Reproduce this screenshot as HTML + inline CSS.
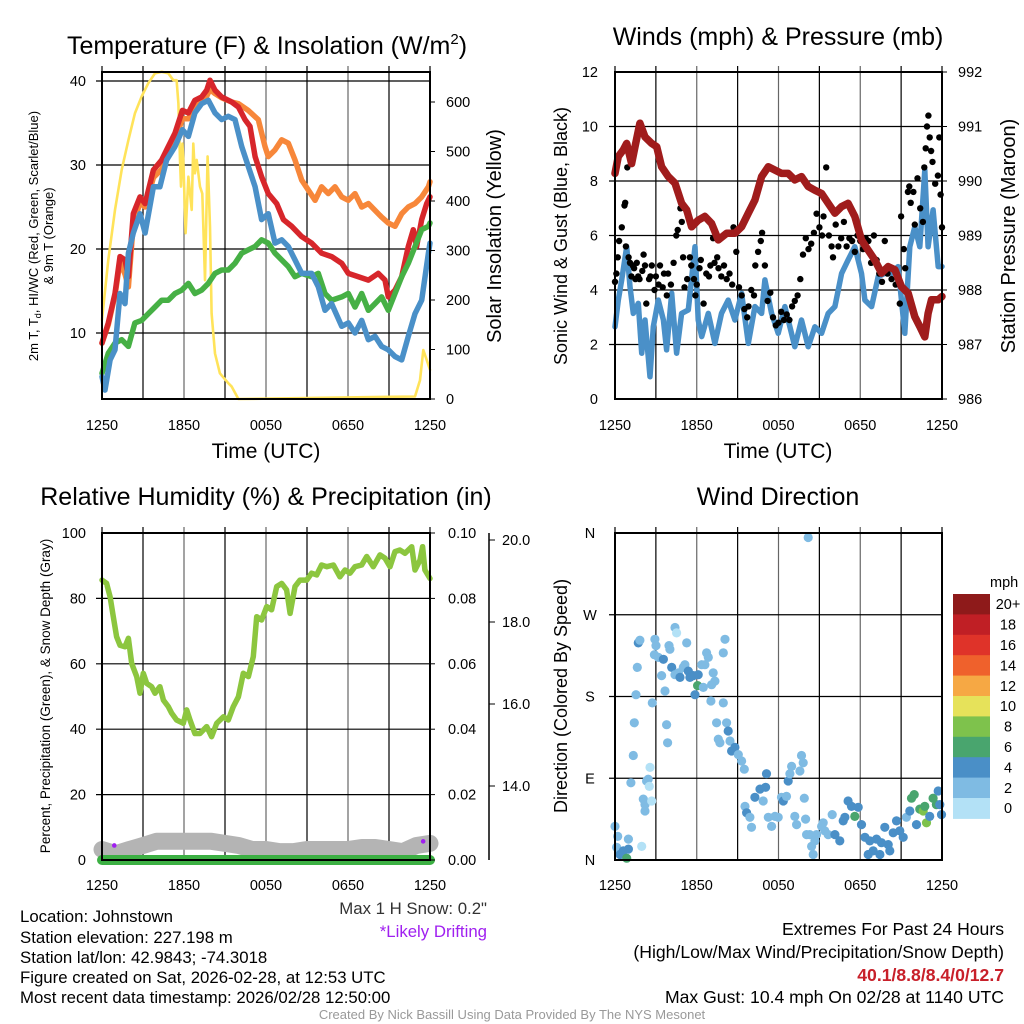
<!DOCTYPE html>
<html><head><meta charset="utf-8"><style>
html,body{margin:0;padding:0;background:#fff;}
svg{display:block;font-family:"Liberation Sans",Arial,sans-serif;}
</style></head><body>
<svg id="chart" width="1024" height="1024" viewBox="0 0 1024 1024" xmlns="http://www.w3.org/2000/svg">
<rect width="1024" height="1024" fill="#fff"/>
<g id="layer"></g>
<!-- titles -->
<text x="267" y="54" font-size="25" text-anchor="middle">Temperature (F) &amp; Insolation (W/m<tspan font-size="15" dy="-10">2</tspan><tspan dy="10">)</tspan></text>
<text x="778" y="45" font-size="25" text-anchor="middle">Winds (mph) &amp; Pressure (mb)</text>
<text x="266" y="505" font-size="25" text-anchor="middle">Relative Humidity (%) &amp; Precipitation (in)</text>
<text x="778" y="505" font-size="25" text-anchor="middle">Wind Direction</text>
<!-- x axis titles -->
<text x="266" y="458" font-size="21" text-anchor="middle">Time (UTC)</text>
<text x="778" y="458" font-size="21" text-anchor="middle">Time (UTC)</text>
<!-- y axis titles -->
<g font-size="13" text-anchor="middle">
<text transform="translate(38,236) rotate(-90)">2m T, T<tspan font-size="9" dy="3">d</tspan><tspan dy="-3">, HI/WC (Red, Green, Scarlet/Blue)</tspan></text>
<text transform="translate(53,236) rotate(-90)">&amp; 9m T (Orange)</text>
</g>
<text transform="translate(501,236) rotate(-90)" font-size="20" text-anchor="middle">Solar Insolation (Yellow)</text>
<text transform="translate(567,236) rotate(-90)" font-size="18" text-anchor="middle">Sonic Wind &amp; Gust (Blue, Black)</text>
<text transform="translate(1015,236) rotate(-90)" font-size="20" text-anchor="middle">Station Pressure (Maroon)</text>
<text transform="translate(50,696) rotate(-90)" font-size="13.5" text-anchor="middle">Percent, Precipitation (Green), &amp; Snow Depth (Gray)</text>
<text transform="translate(567,696) rotate(-90)" font-size="18" text-anchor="middle">Direction (Colored By Speed)</text>
<!-- footer -->
<g font-size="16.8">
<text x="20" y="922">Location: Johnstown</text>
<text x="20" y="943">Station elevation: 227.198 m</text>
<text x="20" y="963">Station lat/lon: 42.9843; -74.3018</text>
<text x="20" y="983">Figure created on Sat, 2026-02-28, at 12:53 UTC</text>
<text x="20" y="1003">Most recent data timestamp: 2026/02/28 12:50:00</text>
</g>
<text x="487" y="914" font-size="16.8" text-anchor="end" fill="#333">Max 1 H Snow: 0.2"</text>
<text x="487" y="937" font-size="16.8" text-anchor="end" fill="#a020f0">*Likely Drifting</text>
<g font-size="17.6" text-anchor="end">
<text x="1004" y="935">Extremes For Past 24 Hours</text>
<text x="1004" y="958">(High/Low/Max Wind/Precipitation/Snow Depth)</text>
<text x="1004" y="981" fill="#c8202a" font-weight="bold">40.1/8.8/8.4/0/12.7</text>
<text x="1004" y="1003">Max Gust: 10.4 mph On 02/28 at 1140 UTC</text>
</g>
<text x="512" y="1019" font-size="13" text-anchor="middle" fill="#999">Created By Nick Bassill Using Data Provided By The NYS Mesonet</text>
</svg>
<script>
// ---------- data ----------
const timeTicks = ["1250","1850","0050","0650","1250"];
const redT = [0,0.46,0.95,1.32,1.68,1.93,2.29,2.78,3.15,3.76,4.37,4.73,5.34,5.88,6.32,6.8,7.29,7.66,7.9,8.27,8.76,9.49,9.98,10.46,10.83,11.2,11.68,12.17,12.78,13.27,13.88,14.6,15.34,16.07,16.8,17.54,18.02,18.76,19.49,20.22,20.71,20.95,21.44,21.93,22.41,22.78,23.02,23.39,23.76,24];
const redV = [8.8,11.2,14.7,19.1,18.7,16.7,24.2,26.2,25.4,29.4,30.6,31.8,33.8,36.5,36.2,37.7,38.1,38.9,40.1,38.9,38.1,37.5,36.9,35.4,34.6,31,28.6,26.6,25.4,23.5,22.7,21.5,20.7,19.5,19.1,18.3,17.1,16.7,16.3,17.1,16.3,14.3,15.1,16.7,20.3,22.3,20.3,23.5,25.4,26.2];
const orangeT = [0,0.46,0.95,1.32,1.68,1.93,2.29,2.78,3.15,3.76,4.37,4.73,5.34,5.88,6.32,6.8,7.29,7.66,7.9,8.27,8.76,9.49,9.98,10.7,11.44,11.93,12.17,12.66,13.15,13.63,14.12,14.61,15.1,15.59,16.07,16.56,17.05,17.54,18.02,18.51,19,19.49,19.98,20.46,20.95,21.44,21.93,22.41,22.9,23.39,23.88,24];
const orangeV = [8.8,11,14.5,18.5,17,15.5,23,25.5,25,28.5,29.5,31,33,35.5,35.5,37,37.8,38.2,39,38.5,38,37.5,37.3,36.5,35.4,32.2,31,31.8,33,32.6,30.6,28.2,27,25.8,27.4,26.6,27.4,26.2,25.8,26.6,25,25.4,24.6,23.8,23.1,22.7,24.2,25,25.4,26.2,27.4,28];
const blueT = [0,0.22,0.59,0.95,1.32,1.68,1.93,2.29,2.78,3.15,3.76,4.24,4.73,5.34,5.88,6.32,6.8,7.29,7.78,8.27,8.76,9.24,9.73,10.22,10.71,11.2,11.68,12.17,12.66,13.15,13.63,14.12,14.61,15.34,15.83,16.32,16.8,17.54,18.02,18.51,19,19.49,19.98,20.46,20.95,21.44,21.93,22.41,22.9,23.39,23.88,24];
const blueV = [4.8,3.2,6.8,8,14.7,13.5,19.5,21.9,24.2,21.9,27.4,27.4,30.6,32.2,34.2,33.4,36.2,37.3,37.7,36.2,35.4,35.8,35.4,32.2,29.8,27.4,23.5,24.2,20.7,21.1,20.3,18.7,17.1,17.1,15.5,12.7,13.5,10.8,11.2,10,11.5,9.2,9.6,8.4,8,7.2,6.8,9.6,12.3,13.9,19.5,20.7];
const greenT = [0,0.46,0.95,1.44,1.93,2.41,2.9,3.39,3.88,4.37,4.85,5.34,5.83,6.32,6.8,7.29,7.78,8.27,8.76,9.24,9.73,10.22,10.71,11.2,11.68,12.17,12.66,13.15,13.63,14.12,14.61,15.34,15.83,16.32,16.8,17.54,18.02,18.51,19,19.49,19.98,20.46,20.95,21.44,21.93,22.41,22.9,23.39,23.88,24];
const greenV = [5.2,7.6,8.8,9.2,8.4,11.2,11.5,12.3,13.1,13.9,13.9,14.7,15.1,15.9,14.7,15.1,15.9,17.1,17.5,17.5,18.3,19.5,19.9,20.3,21.1,20.7,19.5,18.7,17.9,16.7,17.1,16.7,17.1,14.7,13.9,14.3,14.7,13.1,14.7,12.7,13.5,14.3,12.7,14.7,16.7,18.3,20.3,22.3,22.7,23.1];
const solarT = [0,0.46,0.95,1.44,1.93,2.41,2.9,3.39,3.88,4.37,4.85,5.22,5.46,5.59,5.71,5.78,5.88,5.95,6.12,6.32,6.56,6.68,6.8,6.93,7.17,7.34,7.54,7.73,7.9,8.02,8.27,8.63,9.24,9.49,9.98,22.9,23.27,23.51,23.76,24];
const solarV = [160,281,382,463,523,577,611,638,658,661,658,644,644,597,483,429,516,483,335,449,382,516,456,483,429,415,240,490,348,173,92,52,32,25,0,5,38,99,79,59];
const presT = [0,0.24,0.61,0.86,1.22,1.47,1.83,2.2,2.69,3.06,3.42,3.91,4.4,4.89,5.26,5.62,6.11,6.6,7.09,7.58,8.19,8.8,9.29,9.78,10.27,10.76,11.25,11.74,12.22,12.71,13.2,13.69,14.18,14.67,15.16,15.65,16.14,16.63,17.11,17.6,18.09,18.58,19.07,19.56,20.05,20.54,21.03,21.52,22,22.37,22.74,22.98,23.23,23.72,24];
const presV = [990.14,990.45,990.57,990.69,990.32,990.63,991.06,990.81,990.69,990.63,990.26,990.08,989.96,989.59,989.47,989.16,989.28,989.35,989.22,988.92,989.04,989.04,989.16,989.41,989.65,990.08,990.26,990.2,990.14,990.14,990.02,990.08,989.9,989.83,989.77,989.59,989.41,989.53,989.59,989.35,988.92,988.73,988.55,988.31,988.43,988.37,988.06,987.94,987.51,987.33,987.14,987.57,987.82,987.82,987.88];
const windT = [0,0.24,0.49,0.86,1.1,1.34,1.71,1.96,2.2,2.57,2.81,3.18,3.55,3.79,4.16,4.52,4.89,5.38,5.87,6.11,6.36,6.85,7.33,7.82,8.31,8.8,9.29,9.78,10.27,10.76,11,11.49,11.98,12.47,13.2,13.69,14.18,14.67,15.16,15.65,16.14,16.63,17.11,17.6,18.09,18.34,18.83,19.32,19.8,20.29,20.78,21.27,21.64,22,22.37,22.74,22.98,23.35,23.72,24];
const windV = [2.65,3.63,4.37,5.59,4.12,3.14,3.51,1.68,2.9,0.82,2.65,3.63,2.9,1.8,3.88,1.68,3.14,3.27,5.59,2.9,2.29,3.14,2.04,3.14,3.63,2.9,3.88,2.04,3.39,3.14,4.37,3.14,2.41,3.39,1.92,2.9,1.92,2.65,2.41,3.14,3.39,4.61,5.1,5.59,4.61,3.63,3.39,4.49,4.61,4.61,4.86,2.41,5.59,6.32,5.59,8.4,5.59,6.94,4.86,4.86];
const gustT = [0,0.1,0.2,0.3,0.5,0.7,0.75,0.8,0.9,1.0,1.1,1.2,1.3,1.4,1.5,1.6,1.7,1.8,2.0,2.1,2.2,2.3,2.5,2.6,2.7,2.9,3.0,3.2,3.3,3.5,3.6,3.8,3.9,4.1,4.3,4.5,4.6,4.8,4.9,5.0,5.1,5.3,5.5,5.6,5.8,5.9,6.0,6.2,6.3,6.5,6.7,6.9,7.0,7.2,7.3,7.5,7.6,7.8,8.0,8.2,8.4,8.6,8.7,8.9,9.1,9.3,9.5,9.7,9.8,10.0,10.2,10.3,10.5,10.7,10.8,11.0,11.2,11.4,11.6,11.8,12.0,12.2,12.4,12.6,12.8,13.0,13.2,13.4,13.6,13.8,14.0,14.2,14.4,14.6,14.8,15.0,15.2,15.3,15.5,15.7,15.9,16.0,16.2,16.4,16.6,16.8,17.0,17.2,17.4,17.6,17.8,18.0,18.2,18.4,18.6,18.8,19.0,19.2,19.4,19.6,19.8,20.0,20.3,20.6,20.9,21.0,21.2,21.3,21.5,21.6,21.7,21.9,22.0,22.2,22.4,22.6,22.7,22.8,22.9,23.0,23.1,23.2,23.3,23.5,23.7,23.8,23.9,24.0];
const gustV = [4.3,4.6,5.2,5.8,6.3,7.1,7.2,5.6,8.5,5.2,5.0,4.5,4.9,4.8,4.4,5.0,4.5,4.4,4.7,5.3,4.9,3.5,4.4,4.5,4.9,4.0,4.5,4.2,4.9,4.1,4.6,3.8,4.6,4.2,5.0,6.0,6.2,7.0,6.5,5.2,4.1,4.4,5.2,4.9,4.4,3.8,4.2,4.8,5.1,3.5,4.6,4.5,4.9,5.9,5.0,5.2,4.8,4.5,4.9,4.4,4.6,4.2,6.3,5.4,4.1,3.8,3.3,3.0,3.4,4.0,3.8,4.9,5.4,5.8,6.1,4.9,3.6,3.9,3.0,2.7,2.8,3.2,2.9,3.1,2.9,3.4,3.6,3.8,4.4,5.3,5.9,5.5,5.7,6.1,6.8,6.3,6.0,6.7,8.5,6.0,5.6,5.2,6.4,5.6,5.9,6.5,5.6,5.9,5.8,5.4,6.0,5.8,5.5,5.9,5.8,5.0,6.0,5.1,4.6,4.3,5.8,4.6,4.4,4.2,3.5,6.7,5.5,4.8,7.6,7.8,7.2,7.6,6.4,8.1,7.0,6.5,8.5,9.2,10.0,10.4,9.6,9.1,8.7,7.9,8.2,9.6,7.5,6.3];
const rhT = [0,0.34,0.59,0.83,1.07,1.32,1.68,1.93,2.17,2.54,2.78,3.02,3.27,3.63,3.88,4.24,4.49,4.85,5.1,5.46,5.95,6.2,6.44,6.8,7.17,7.66,8.02,8.39,8.88,9.24,9.61,9.98,10.34,10.71,11.07,11.32,11.68,12.05,12.41,12.78,13.15,13.51,13.76,14.12,14.49,14.98,15.34,15.71,16.07,16.44,16.93,17.41,17.78,18.15,18.51,19,19.37,19.85,20.34,20.71,21.07,21.44,21.8,22.17,22.66,22.9,23.27,23.46,23.63,24];
const rhV = [85.6,84.6,80.5,74.4,68.3,65.7,65.2,67.8,60.1,56.1,51,57.1,54,53,51,53,48.9,46.9,44.9,42.8,41.8,45.9,42.8,38.7,38.7,40.8,37.7,41.8,43.8,42.8,46.9,49.9,57.1,56.1,62.2,74.4,73.4,77.5,76.5,83.6,84.6,82.6,75.4,83.6,85.6,85.6,87.7,87.2,90.2,89.7,90.2,86.6,88.7,87.7,89.7,90.2,92.8,89.7,93.3,92.3,89.7,94.3,94.8,93.8,95.8,88.7,91.7,95.8,88.7,86.1];
const precipT = [0,24];
const precipV = [0,0];
const snowT = [0,1,2,3,4,5,6,7,8,9,10,11,12,13,14,15,16,17,18,19,20,21,22,23,24];
const snowV = [12.45,12.35,12.45,12.55,12.65,12.65,12.65,12.65,12.65,12.6,12.55,12.45,12.45,12.4,12.4,12.45,12.45,12.45,12.45,12.5,12.5,12.45,12.4,12.55,12.6];
const driftT = [0.9,23.5];
const driftV = [12.55,12.65];
const dirT = [0,0.2,0.12,0.37,0.61,0.86,0.98,0.98,1.17,1.34,1.42,1.54,1.64,1.71,1.83,1.96,2.08,2.2,2.2,2.32,2.44,2.52,2.57,2.69,2.74,2.93,3.01,2.89,3.18,3.42,3.55,3.67,3.79,3.86,3.96,4.03,4.16,4.4,4.52,4.4,4.65,4.77,5.01,5.13,5.26,5.38,5.5,5.75,5.87,6.06,6.11,6.36,6.48,6.6,6.72,6.85,7.09,7.21,7.33,7.04,7.95,8.07,7.95,7.46,7.58,7.7,8.19,8.31,8.44,8.56,8.8,9.05,9.29,9.49,9.54,9.66,9.9,10.02,10.27,10.64,10.88,11.05,11.12,11.25,11.49,11.74,11.98,12.22,12.35,12.59,12.71,12.84,12.96,13.2,13.33,13.57,13.69,13.81,13.89,13.99,14.18,14.06,14.3,14.43,14.55,14.67,14.79,15.16,15.28,15.4,15.65,15.94,16.14,16.5,16.75,16.87,17.11,17.36,17.6,17.85,18.09,18.34,18.58,18.7,18.95,19.19,19.44,19.56,19.8,20.05,20.17,20.42,20.66,20.9,21.15,21.39,21.64,21.76,21.96,22.13,22.37,22.62,22.74,22.86,23.1,23.35,23.59,23.72,23.84,23.96];
const dirV = [37,26,14,6,10,2,12,23,85,115,151,182,212,239,242,15,67,61,54,87,89,81,102,65,173,243,236,226,223,203,221,186,149,129,236,232,212,256,250,204,206,201,212,215,239,208,201,203,182,192,204,215,190,215,228,223,193,206,197,175,173,243,228,151,133,129,151,142,131,120,124,116,109,100,59,52,47,36,69,78,65,80,95,47,37,48,47,69,65,70,87,95,103,48,39,98,115,107,68,45,355,28,28,15,6,21,28,37,41,32,28,50,28,21,43,47,65,59,48,58,39,25,6,21,10,23,6,19,36,17,10,30,43,32,25,47,54,68,72,39,56,54,59,41,48,68,61,76,61,50];
const dirSpeedBin = [1,1,1,2,2,3,2,1,1,1,1,1,1,2,1,0,1,1,1,1,1,0,0,0,1,1,1,1,1,1,2,1,1,1,1,1,2,1,0,1,1,2,1,1,1,2,2,2,2,3,2,1,1,1,1,1,1,1,1,1,1,1,1,1,1,1,1,2,1,2,2,1,1,1,1,2,1,1,2,2,1,2,2,1,1,1,1,1,2,1,2,1,1,1,1,1,1,1,1,1,1,1,1,1,1,1,1,1,1,1,1,1,2,2,2,2,2,2,3,2,2,2,2,2,2,2,2,2,2,2,2,2,2,2,2,1,2,3,3,2,3,4,3,4,2,3,3,2,2,2];
const speedColors = ["#b3e1f6","#7fbbe3","#4a8fc7","#49a56e","#7ec24c","#e6e25a","#f6a844","#ef612c","#df3329","#c01f25","#8e1a1a"];
const speedLabels = ["0","2","4","6","8","10","12","14","16","18","20+"];
const tempTicks = [10,20,30,40];
const solarTicks = [0,100,200,300,400,500,600];
const windTicks = [0,2,4,6,8,10,12];
const presTicks = [986,987,988,989,990,991,992];
const rhTicks = [0,20,40,60,80,100];
const precipTicks = ["0.00","0.02","0.04","0.06","0.08","0.10"];
const snowTicks = ["14.0","16.0","18.0","20.0"];
const dirTicks = ["N","E","S","W","N"];

// ---------- helpers ----------
const NS="http://www.w3.org/2000/svg";
const layer=document.getElementById('layer');
function el(tag,attrs,parent){const e=document.createElementNS(NS,tag);for(const k in attrs)e.setAttribute(k,attrs[k]);(parent||layer).appendChild(e);return e;}
const P1={x0:102,x1:430,y0:72,y1:399},P2={x0:615,x1:942,y0:72,y1:399},P3={x0:102,x1:430,y0:533,y1:860},P4={x0:615,x1:942,y0:533,y1:860};
function xT(p,t){return p.x0+t/24*(p.x1-p.x0);}
const yTemp=v=>81+(40-v)*8.4;
const ySolar=v=>399-v*0.495;
const yWind=v=>399-v*27.25;
const yPres=v=>399-(v-986)*54.5;
const yRH=v=>860-v*3.27;
const yPrecip=v=>860-v*3270;
const ySnow=v=>540+(20-v)*41;
const yDir=v=>860-v*327/360;

function line(p,ts,vs,yf,color,w,name){
  let d='';ts.forEach((t,i)=>{d+=(i?'L':'M')+xT(p,t).toFixed(1)+' '+yf(vs[i]).toFixed(1);});
  const e=el('path',{d:d,fill:'none',stroke:color,'stroke-width':w,'stroke-linejoin':'round','stroke-linecap':'round'});
  
  
  return e;
}
function frame(p,name,hGrid){
  const g=el('g',{});
  
  
  for(let h=3;h<24;h+=3){const x=xT(p,h);el('line',{x1:x,y1:p.y0-6,x2:x,y2:p.y1,stroke:(h%6? '#000':'#666'),'stroke-width':1.2},g);}
  hGrid.forEach(y=>el('line',{x1:p.x0-6,y1:y,x2:p.x1,y2:y,stroke:'#000','stroke-width':1.2},g));
  el('line',{x1:p.x0,y1:p.y0-6,x2:p.x0,y2:p.y1,stroke:'#000','stroke-width':1.2},g);
  el('line',{x1:p.x1,y1:p.y0-6,x2:p.x1,y2:p.y1,stroke:'#000','stroke-width':1.2},g);
  return g;
}
function border(p){el('rect',{x:p.x0,y:p.y0,width:p.x1-p.x0,height:p.y1-p.y0,fill:'none',stroke:'#000','stroke-width':2});}
function xLabels(p,y){timeTicks.forEach((s,i)=>{const e=el('text',{x:xT(p,i*6),y:y,'font-size':14.5,'text-anchor':'middle'});e.textContent=s;
  
  });}
function label(x,y,txt,anchor,size,name){const e=el('text',{x:x,y:y+5,'font-size':size||14.5,'text-anchor':anchor});e.textContent=txt;
  
  return e;}
function rightTicks(x,ys,len){ys.forEach(y=>el('line',{x1:x,y1:y,x2:x+len,y2:y,stroke:'#000','stroke-width':1}));}

// ---------- panel 1 ----------
frame(P1,'temp-grid',tempTicks.map(yTemp));
line(P1,solarT,solarV,ySolar,'#ffe35a',2.6,'solar-line');
line(P1,orangeT,orangeV,yTemp,'#f7873a',5.5,'temp-9m-line');
line(P1,redT,redV,yTemp,'#d7262b',5.5,'temp-2m-line');
line(P1,greenT,greenV,yTemp,'#46b045',5.5,'dewpoint-line');
line(P1,blueT,blueV,yTemp,'#4a90c8',5.5,'windchill-line');
border(P1);
tempTicks.forEach(v=>label(86,yTemp(v),String(v),'end',14.5,'temp-tick-label'));
solarTicks.forEach(v=>label(446,ySolar(v),String(v),'start',14.5,'solar-tick-label'));
rightTicks(P1.x1,solarTicks.map(ySolar),5);
xLabels(P1,430);

// ---------- panel 2 ----------
frame(P2,'wind-grid',windTicks.slice(1,6).map(yWind));
line(P2,windT,windV,yWind,'#4a90c8',5.5,'sonic-wind-line');
gustT.forEach((t,i)=>{const c=el('circle',{cx:xT(P2,t).toFixed(1),cy:yWind(gustV[i]).toFixed(1),r:3.2,fill:'#000'});
  
  });
line(P2,presT,presV,yPres,'#a01c1c',7.5,'pressure-line');
border(P2);
windTicks.forEach(v=>label(598,yWind(v),String(v),'end',14.5,'wind-tick-label'));
presTicks.forEach(v=>label(958,yPres(v),String(v),'start',14.5,'pressure-tick-label'));
rightTicks(P2.x1,presTicks.map(yPres),5);
xLabels(P2,430);

// ---------- panel 3 ----------
frame(P3,'humidity-grid',rhTicks.slice(1,5).map(yRH));
line(P3,snowT,snowV,ySnow,'#b4b4b4',17,'snow-depth-line');
line(P3,precipT,precipV,yPrecip,'#3cb043',10,'precip-line');
line(P3,rhT,rhV,yRH,'#8cc63f',5.5,'humidity-line');
driftT.forEach((t,i)=>{const c=el('circle',{cx:xT(P3,t),cy:ySnow(driftV[i]),r:2.3,fill:'#a020f0'});
  
  });
border(P3);
rhTicks.forEach(v=>label(86,yRH(v),String(v),'end',14.5,'humidity-tick-label'));
precipTicks.forEach(s=>label(448,yPrecip(parseFloat(s)),s,'start',14.5,'precip-tick-label'));
rightTicks(P3.x1,precipTicks.map(s=>yPrecip(parseFloat(s))),5);
el('line',{x1:489,y1:533,x2:489,y2:860,stroke:'#000','stroke-width':1.5});
snowTicks.forEach(s=>{const y=ySnow(parseFloat(s));el('line',{x1:489,y1:y,x2:495,y2:y,stroke:'#000'});label(502,y,s,'start',14.5,'snow-tick-label');});
xLabels(P3,890);

// ---------- panel 4 ----------
frame(P4,'direction-grid',[90,180,270].map(yDir));
dirT.forEach((t,i)=>{const c=el('circle',{cx:xT(P4,t).toFixed(1),cy:yDir(dirV[i]).toFixed(1),r:4.6,fill:speedColors[dirSpeedBin[i]]});
  
  });
border(P4);
dirTicks.forEach((s,i)=>label(590,yDir(i*90),s,'middle',14.5,'direction-tick-label'));
xLabels(P4,890);
// colorbar
const cbTop=594,cbH=20.4;
const cbLbl=el('text',{x:990,y:587,'font-size':14.5});cbLbl.textContent='mph';


speedColors.forEach((c,i)=>{const k=speedColors.length-1-i;const y=cbTop+i*cbH;
  const r=el('rect',{x:953,y:y,width:37,height:cbH+0.5,fill:speedColors[k]});
  
  
  label(1008,y+cbH/2,speedLabels[k],'middle',14.5,'colorbar-label');});
</script>
</body></html>
